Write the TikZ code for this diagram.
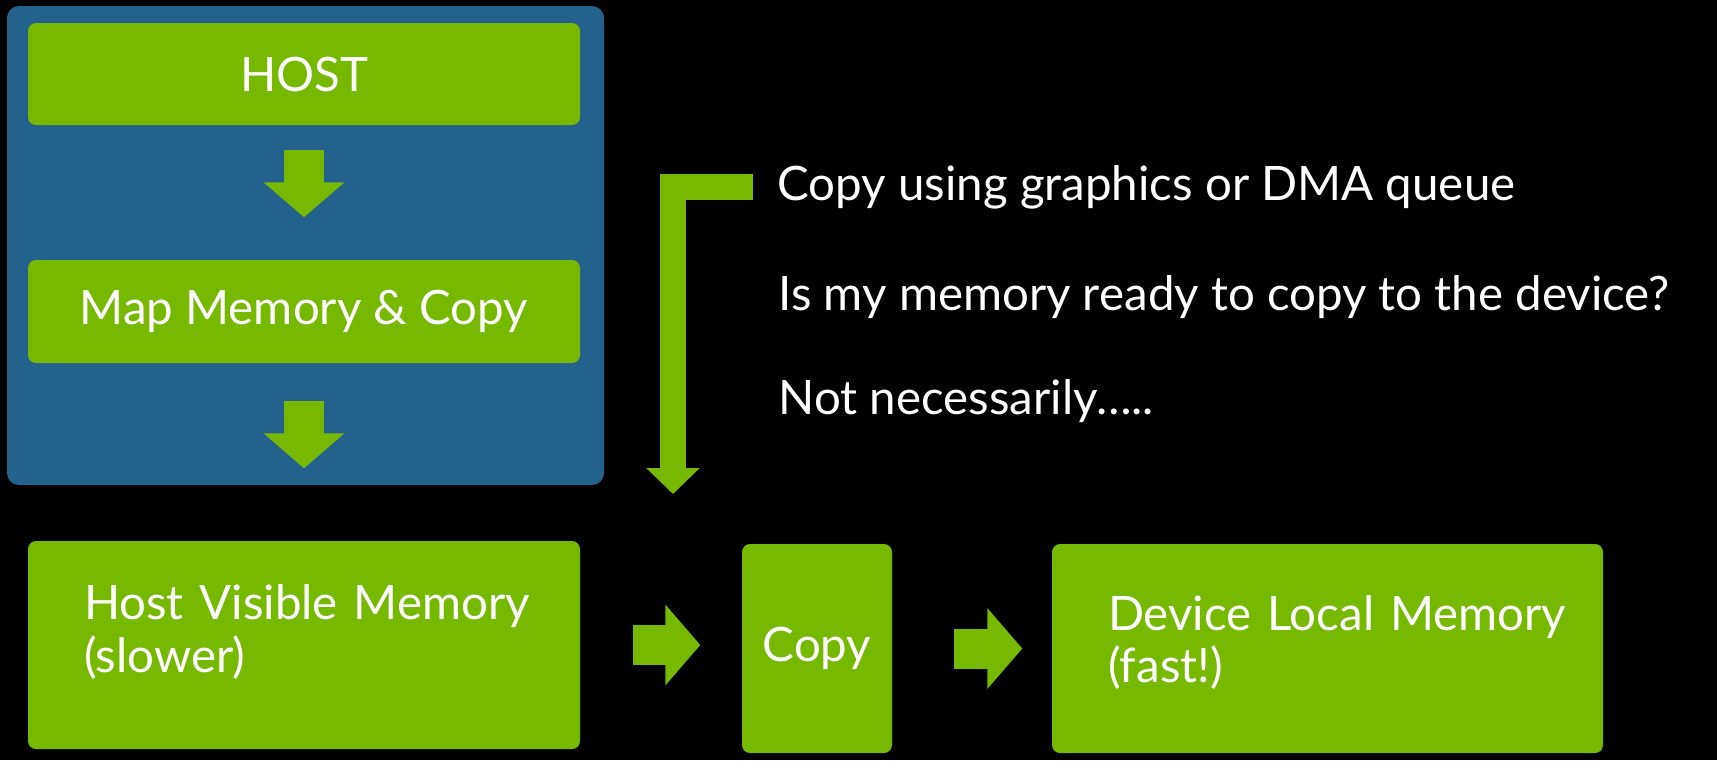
\documentclass[tikz,border=0pt]{standalone}
\usepackage{fontspec}
\setmainfont{Lato}
\usepackage{tikz}
\usetikzlibrary{arrows.meta}
\definecolor{nvgreen}{HTML}{76B900}
\definecolor{panelblue}{HTML}{24628E}

\begin{document}
\begin{tikzpicture}[x=0.1mm, y=-0.1mm,
    box/.style={fill=nvgreen, rounded corners=0.8mm, text=white, inner sep=0pt,
                font=\fontsize{13.5}{14.8}\selectfont},
    note/.style={text=white, inner sep=0pt, anchor=base west,
                 font=\fontsize{13.5}{14.8}\selectfont},
    blockarrow/.style={draw=nvgreen, line width=4mm,
                       -{Triangle[width=7.9mm, length=3.5mm]}},
    lbar/.style={draw=nvgreen, line width=2.65mm,
                 -{Triangle[width=5.2mm, length=2.6mm]}}]
                    \fill[black] (0,0) rectangle (1717,760);
                    \useasboundingbox (0,0) rectangle (1717,760);

                    % Define nodes
                    \node (panel) at (305.5,245.5) [fill=panelblue, rounded corners=1.2mm, minimum width=59.7mm, minimum height=47.9mm] {};
                    \node (host) at (304,74) [box, minimum width=55.2mm, minimum height=10.2mm] {HOST};
                    \node (map) at (304,311.5) [box, minimum width=55.2mm, minimum height=10.3mm] {Map Memory \& Copy};
                    \node (hvm) at (304,645) [box, minimum width=55.2mm, minimum height=20.8mm, text width=44mm, align=left] {\mbox{Host Visible Memory}\\(slower)\rule[-3.3mm]{0pt}{3.3mm}};
                    \node (copy) at (817,648.5) [box, minimum width=15mm, minimum height=20.9mm] {Copy};
                    \node (dlm) at (1327.5,648.5) [box, minimum width=55.1mm, minimum height=20.9mm, text width=43.9mm, align=left] {\mbox{Device Local Memory}\\(fast!)\rule[-1.9mm]{0pt}{1.9mm}};

                    \node (q1) at (777,200) [note] {Copy using graphics or DMA queue};
                    \node (q2) at (778,310) [note] {Is my memory ready to copy to the device?};
                    \node (q3) at (778,414) [note] {Not necessarily…..};
                    \coordinate (ltip) at (673,494);

                    % Draw arrows
                    \draw[blockarrow, shorten <=2.4mm, shorten >=4.2mm] (host) -- (map);
                    \draw[blockarrow, shorten <=3.7mm, shorten >=7.2mm] (map) -- (hvm);
                    \draw[blockarrow, shorten <=5.2mm, shorten >=4.1mm] (hvm.east) -- (hvm.east -| copy.west);
                    \draw[blockarrow, shorten <=6.1mm, shorten >=2.9mm] (copy) -- (dlm);
                    \draw[lbar] ([xshift=-2.4mm]q1.west) -| (ltip);
                \end{tikzpicture}
\end{document}
